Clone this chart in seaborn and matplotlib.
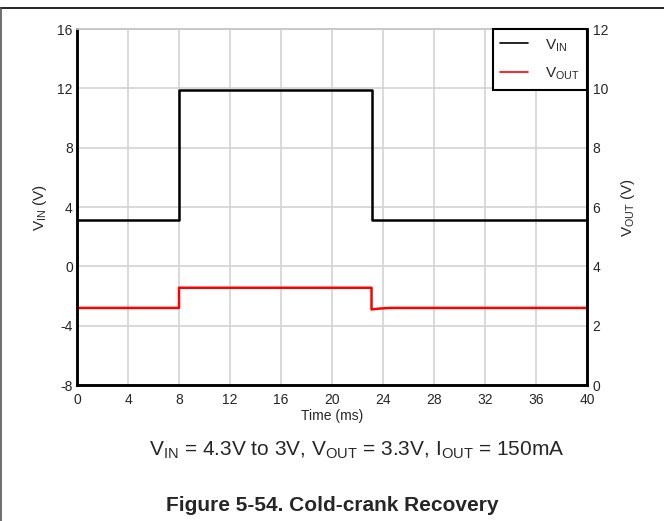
import numpy as np
import pandas as pd
import matplotlib
matplotlib.use('Agg')
import matplotlib.pyplot as plt
import seaborn as sn
from matplotlib.lines import Line2D

# step breakpoints
t_vin = [0, 8, 8, 23.1, 23.1, 40]
vin = [3.1, 3.1, 11.9, 11.9, 3.1, 3.1]
t_vout = [0, 8, 8, 23.1, 23.1, 23.8, 24.6, 40]
vout = [2.6, 2.6, 3.28, 3.28, 2.55, 2.58, 2.6, 2.6]

xticks = list(range(0, 41, 4))
yticks_left = list(range(-8, 17, 4))
yticks_right = list(range(0, 13, 2))

sn.set_style('white')
plt.rcParams['font.family'] = ['Liberation Sans', 'DejaVu Sans']
plt.rcParams['mathtext.fontset'] = 'custom'
plt.rcParams['mathtext.rm'] = 'Liberation Sans'
plt.rcParams['axes.unicode_minus'] = False

fig = plt.figure(figsize=(6.64, 5.21), dpi=100)
ax = fig.add_axes([0.116, 0.261, 0.768, 0.683])
ax2 = ax.twinx()

df_in = pd.DataFrame({'t': t_vin, 'v': vin})
df_out = pd.DataFrame({'t': t_vout, 'v': vout})
sn.lineplot(data=df_in, x='t', y='v', ax=ax, color='black', lw=1.8, sort=False, estimator=None)
sn.lineplot(data=df_out, x='t', y='v', ax=ax2, color='#ff0000', lw=1.8, sort=False, estimator=None)

ax.set_xlim(0, 40)
ax.set_ylim(-8, 16)
ax2.set_ylim(0, 12)
ax.set_xticks(xticks)
ax.set_yticks(yticks_left)
ax2.set_yticks(yticks_right)
ax.grid(True, color='#d3d3d3', lw=1.2)
ax.set_axisbelow(True)
ax.tick_params(axis='y', length=0, pad=3, labelsize=10)
ax.tick_params(axis='x', length=0, pad=6, labelsize=10)
ax2.tick_params(length=0, pad=4, labelsize=10)

for a in (ax, ax2):
    for s in a.spines.values():
        s.set_color('black')
        s.set_linewidth(1.8)
    a.spines['top'].set_color('#c8c8c8')
    a.spines['top'].set_linewidth(1.2)

ax.set_xlabel('Time (ms)', fontsize=10, labelpad=1)
ax.set_ylabel(r'V$_{\mathregular{IN}}$ (V)', fontsize=11, labelpad=6)
ax2.set_ylabel(r'V$_{\mathregular{OUT}}$ (V)', fontsize=11, labelpad=8)

handles = [Line2D([], [], color='black', lw=1.2), Line2D([], [], color='#ff0000', lw=1.2)]
leg = ax2.legend(handles, [r'V$_{\mathregular{IN}}$', r'V$_{\mathregular{OUT}}$'], loc='upper right',
                 bbox_to_anchor=(1.0, 1.0), fancybox=False, framealpha=1, edgecolor='black',
                 fontsize=11, handlelength=1.8, handletextpad=1.1, borderaxespad=0.0,
                 borderpad=0.5, labelspacing=0.8)
leg.get_frame().set_linewidth(1.5)

fig.text(0.538, 0.135, r'V$_{\mathregular{IN}}$ = 4.3V to 3V, V$_{\mathregular{OUT}}$ = 3.3V, I$_{\mathregular{OUT}}$ = 150mA',
         ha='center', va='center', fontsize=15)
fig.text(0.5, 0.03, 'Figure 5-54. Cold-crank Recovery', ha='center', va='center', fontsize=15, fontweight='bold')

# page frame lines
fig.add_artist(Line2D([0, 1], [1 - 8 / 521, 1 - 8 / 521], color='black', lw=1.2, transform=fig.transFigure))
fig.add_artist(Line2D([0.002, 0.002], [0, 1 - 8 / 521], color='#555555', lw=1.2, transform=fig.transFigure))

plt.savefig('out.png', dpi=100)
plt.close()
